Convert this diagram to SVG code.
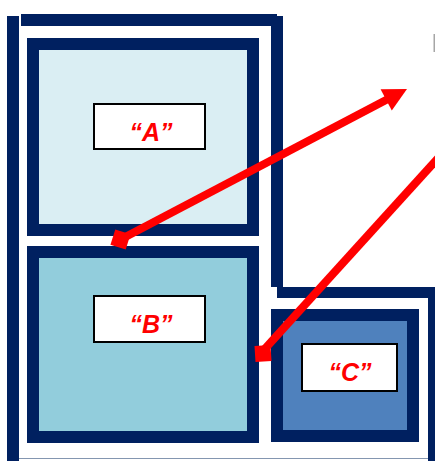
<svg xmlns="http://www.w3.org/2000/svg" width="435" height="461" viewBox="0 0 435 461">
<style>
.frame{fill:#002060}
.box{stroke:#002060;stroke-width:12}
.lbl{fill:#ffffff;stroke:#000000;stroke-width:2}
.txt{font-family:"Liberation Sans",Arial,sans-serif;font-size:25px;font-weight:bold;font-style:italic;fill:#ff0000;text-anchor:middle}
.arrow{stroke:#ff0000;stroke-width:8;fill:none}
.red{fill:#ff0000}
</style>
<rect width="435" height="461" fill="#ffffff"/>
<g id="frame">
<rect class="frame" x="7" y="16" width="12" height="445"/>
<rect class="frame" x="21" y="14" width="256" height="12"/>
<rect class="frame" x="271" y="16" width="12" height="271"/>
<rect class="frame" x="277" y="287" width="158" height="11"/>
<rect class="frame" x="428" y="287" width="7" height="174"/>
<line x1="19" y1="458.5" x2="428" y2="458.5" stroke="#8496B0" stroke-width="1"/>
</g>
<g id="nodeA">
<rect class="box" x="33" y="44" width="220" height="186" fill="#DAEEF3"/>
<rect class="lbl" x="94" y="104" width="111" height="45"/>
<text class="txt" x="151" y="141">“A”</text>
</g>
<g id="nodeB">
<rect class="box" x="33" y="252" width="220" height="185" fill="#92CDDC"/>
<rect class="lbl" x="94" y="296" width="111" height="46"/>
<text class="txt" x="151" y="333">“B”</text>
</g>
<g id="nodeC">
<rect class="box" x="277" y="315" width="136" height="121" fill="#4F81BD"/>
<rect class="lbl" x="302" y="344" width="95" height="47"/>
<text class="txt" x="350" y="381">“C”</text>
</g>
<rect x="433.5" y="34" width="1.5" height="18" fill="#A6A6A6"/>
<g id="connectors">
<line class="arrow" x1="120.5" y1="239.5" x2="387" y2="99.5"/>
<polygon class="red" points="407,89 380.6,89.3 391.8,110.5"/>
<rect class="red" x="112.5" y="231.5" width="16" height="16" transform="rotate(17.6 120.5 239.5)"/>
<line class="arrow" x1="262" y1="352" x2="450" y2="145"/>
<rect class="red" x="255" y="345.5" width="16" height="16" transform="rotate(-3.6 263 353.5)"/>
</g>
</svg>
